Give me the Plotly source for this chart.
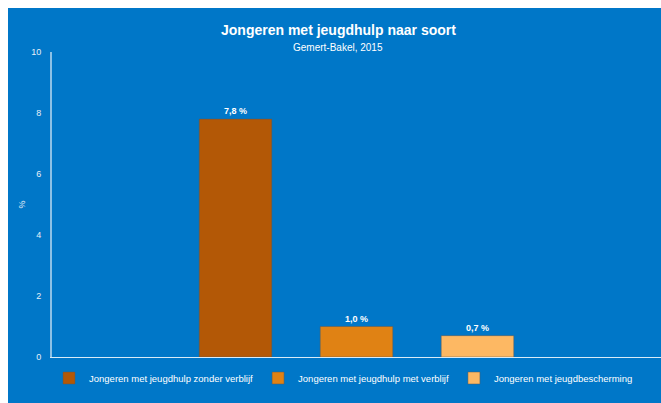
import plotly.graph_objects as go

categories = ["Gemert-Bakel"]
series_names = [
    "Jongeren met jeugdhulp zonder verblijf",
    "Jongeren met jeugdhulp met verblijf",
    "Jongeren met jeugdbescherming",
]
series_values = [7.8, 1.0, 0.7]
value_labels = ["7,8 %", "1,0 %", "0,7 %"]
colors = ["#B35806", "#E08214", "#FDB863"]
y_ticks = [0, 2, 4, 6, 8, 10]

BLUE = "#0077C8"
W, H = 653, 395
L, R, T, B = 44, 0, 44, 46
OFF = 8  # page body margin (top/left)
PW, PH = W - L - R, H - T - B


def cx(p):
    return (p - OFF) / W


def cy(p):
    return 1 - (p - OFF) / H


def px(p):
    return (p - OFF - L) / PW


def py(p):
    return (H - B - (p - OFF)) / PH


fig = go.Figure()
for name, val, lab, col in zip(series_names, series_values, value_labels, colors):
    fig.add_trace(go.Bar(
        x=categories, y=[val], name=name,
        marker=dict(color=col, line=dict(color="rgba(90,90,90,0.5)", width=1)),
        text=[lab], textposition="outside", cliponaxis=False,
        textfont=dict(color="white", size=9, family="Liberation Sans, Arial"),
        texttemplate="<b>%{text}</b>",
        hoverinfo="skip",
    ))

fig.add_annotation(text="<b>Jongeren met jeugdhulp naar soort</b>", xref="paper", yref="paper",
                   x=px(338), y=py(30), yanchor="middle", showarrow=False,
                   font=dict(color="white", size=14, family="Liberation Sans, Arial"))
fig.add_annotation(text="Gemert-Bakel, 2015", xref="paper", yref="paper",
                   x=px(338), y=py(48), yanchor="middle", showarrow=False,
                   font=dict(color="white", size=10, family="Liberation Sans, Arial"))

fig.update_layout(
    width=W, height=H,
    margin=dict(l=L, r=R, t=T, b=B, pad=0, autoexpand=False),
    paper_bgcolor=BLUE, plot_bgcolor=BLUE,
    barmode="group", bargap=0.404, bargroupgap=0.4,
    showlegend=True,
    legend=dict(orientation="h", xref="container", yref="container",
                x=cx(49), y=cy(378), xanchor="left", yanchor="middle",
                font=dict(color="white", size=9.5, family="Liberation Sans, Arial"),
                bgcolor="rgba(0,0,0,0)", traceorder="normal"),
    font=dict(family="Liberation Sans, Arial", color="white"),
    xaxis=dict(showticklabels=False, showgrid=False, zeroline=False, showline=True,
               linecolor="rgba(255,255,255,0.85)", linewidth=1, ticks=""),
    yaxis=dict(range=[0, 10], tickvals=y_ticks, showgrid=False, zeroline=False,
               showline=True, linecolor="rgba(255,255,255,0.55)", linewidth=2,
               tickfont=dict(color="#E8F0F8", size=9), ticks="", ticklabelstandoff=7,
               title=dict(text="%", font=dict(color="#E8F0F8", size=9), standoff=4)),
)

fig.write_html(
    "out.html",
    post_script="document.body.style.margin='8px 0 0 8px';document.body.style.overflow='hidden';",
)
